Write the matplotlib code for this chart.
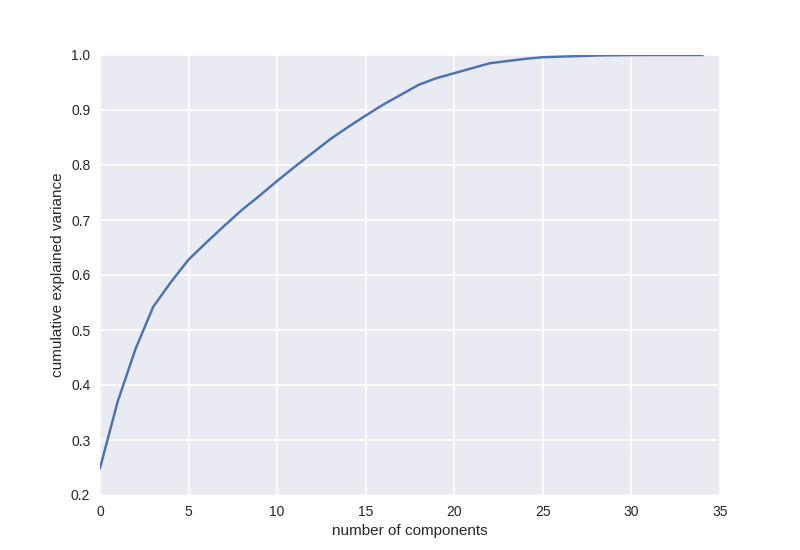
import numpy as np
import matplotlib.pyplot as plt

# cumulative explained variance per number of components
n_components = np.arange(35)
cum_var = [0.249, 0.370, 0.465, 0.542, 0.587, 0.628, 0.659, 0.689, 0.718, 0.744,
           0.771, 0.797, 0.822, 0.847, 0.869, 0.890, 0.910, 0.928, 0.946, 0.958,
           0.967, 0.976, 0.985, 0.989, 0.993, 0.996, 0.997, 0.998, 0.999, 0.9995,
           0.9998, 1.0, 1.0, 1.0, 1.0]

plt.rcParams['font.family'] = ['Liberation Sans', 'DejaVu Sans']
plt.rcParams['text.color'] = '#262626'
plt.rcParams['axes.labelcolor'] = '#262626'
plt.rcParams['xtick.color'] = '#262626'
plt.rcParams['ytick.color'] = '#262626'

fig = plt.figure(figsize=(8, 5.5), dpi=100)
fig.subplots_adjust(left=0.125, right=0.9, top=0.9, bottom=0.1)
ax = fig.add_subplot(111)
ax.set_facecolor('#EAEAF2')
for s in ax.spines.values():
    s.set_visible(False)
ax.grid(True, color='white', linewidth=1.2)
ax.set_axisbelow(True)
ax.tick_params(length=0, pad=7, labelsize=10)

ax.plot(n_components, cum_var, color='#4C72B0', linewidth=1.75)
ax.set_xlim(0, 35)
ax.set_ylim(0.2, 1.0)
ax.set_xlabel('number of components', fontsize=11)
ax.set_ylabel('cumulative explained variance', fontsize=11)

fig.savefig('out.png', dpi=100)
